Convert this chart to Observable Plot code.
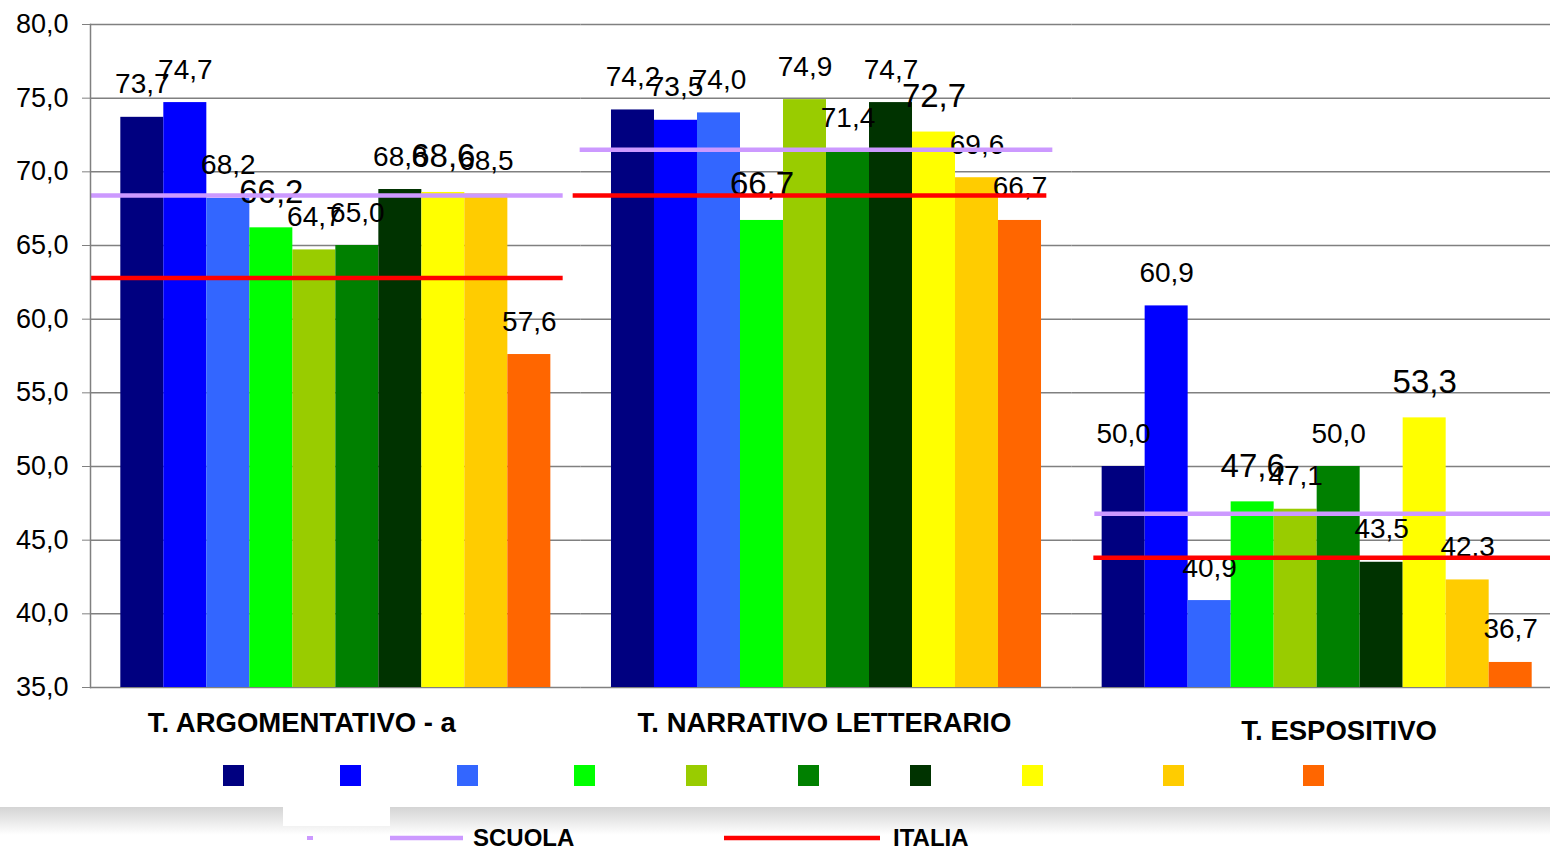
<!DOCTYPE html>
<html><head><meta charset="utf-8">
<script src="https://cdn.jsdelivr.net/npm/d3@7"></script>
<script src="https://cdn.jsdelivr.net/npm/@observablehq/plot@0.6"></script>
<style>
html,body{margin:0;padding:0;background:#fff;overflow:hidden;width:1550px;height:850px;}
#wrap{position:relative;width:1550px;height:850px;overflow:hidden;font-family:"Liberation Sans",Arial,sans-serif;background:#fff;}
#chart{position:absolute;left:0;top:0;width:1562px;}
#chart svg{max-width:none !important;}
#band{position:absolute;left:0;top:807px;width:1550px;height:43px;background:linear-gradient(#d4d4d4,#ffffff 65%);}
#legend{position:absolute;left:0;top:0;}
</style></head>
<body><div id="wrap"><div id="band"></div><div id="chart"></div><svg id="legend" width="1550" height="850"></svg></div>
<script>
// ---- data ----
const groups = ["T. ARGOMENTATIVO - a", "T. NARRATIVO LETTERARIO", "T. ESPOSITIVO"];
const series = ["S1", "S2", "S3", "S4", "S5", "S6", "S7", "S8", "S9", "S10"];
const seriesColors = ["#000080", "#0000FF", "#3366FF", "#00FF00", "#99CC00", "#008000", "#003300", "#FFFF00", "#FFCC00", "#FF6600"];
const argomentativo = [73.7, 74.7, 68.2, 66.2, 64.7, 65.0, 68.8, 68.6, 68.5, 57.6];
const narrativo = [74.2, 73.5, 74.0, 66.7, 74.9, 71.4, 74.7, 72.7, 69.6, 66.7];
const espositivo = [50.0, 60.9, 40.9, 47.6, 47.1, 50.0, 43.5, 53.3, 42.3, 36.7];
const scuola = [68.4, 71.5, 46.8];
const italia = [62.8, 68.4, 43.8];
const yTicks = [35, 40, 45, 50, 55, 60, 65, 70, 75, 80];
const lineNames = ["SCUOLA", "ITALIA"];

// ---- build ----
const valuesByGroup = [argomentativo, narrativo, espositivo];
const bigSeries = new Set([series[3], series[7]]);
const rows = groups.flatMap((g, gi) => valuesByGroup[gi].map((v, i) => ({group: g, series: series[i], value: v})));
const fmt = v => v.toFixed(1).replace(".", ",");

const scuolaInset = [
  {insetLeft: 0, insetRight: 18},
  {insetLeft: -1, insetRight: 19},
  {insetLeft: 23, insetRight: -20}
];
const italiaInset = [
  {insetLeft: 0, insetRight: 18},
  {insetLeft: -8, insetRight: 25},
  {insetLeft: 22, insetRight: -20}
];
const catOffset = [{dx: -34, dy: 44}, {dx: -2, dy: 44}, {dx: 22, dy: 52}];

const refMarks = groups.flatMap((g, gi) => [
  Plot.ruleY([scuola[gi]], {fx: () => g, y: d => d, stroke: "#CC99FF", strokeWidth: 4.5, ...scuolaInset[gi]}),
  Plot.ruleY([italia[gi]], {fx: () => g, y: d => d, stroke: "#FF0000", strokeWidth: 4.5, ...italiaInset[gi]})
]);
const catMarks = groups.map((g, gi) =>
  Plot.text([g], {fx: d => d, text: d => d, frameAnchor: "bottom", lineAnchor: "bottom",
    dx: catOffset[gi].dx, dy: catOffset[gi].dy, fontSize: 27.5, fontWeight: "bold", fill: "#000"})
);

const chart = Plot.plot({
  width: 1562,
  height: 760,
  marginLeft: 90,
  marginRight: 0,
  marginTop: 24,
  marginBottom: 73,
  style: {fontFamily: "'Liberation Sans', Arial, sans-serif", background: "transparent", overflow: "visible", maxWidth: "none"},
  fx: {domain: groups, padding: 0, round: false, axis: null},
  x: {domain: series, paddingInner: 0, paddingOuter: 0.705, round: false, axis: null},
  y: {domain: [yTicks[0], yTicks[yTicks.length - 1]], label: null},
  color: {domain: series, range: seriesColors},
  marks: [
    Plot.ruleY(yTicks, {stroke: "#808080", strokeWidth: 1.5}),
    Plot.barY(rows, {fx: "group", x: "series", y1: yTicks[0], y2: "value", fill: "series"}),
    Plot.text(rows.filter(d => !bigSeries.has(d.series)), {fx: "group", x: "series", y: "value", text: d => fmt(d.value),
      lineAnchor: "bottom", dy: -24, fontSize: 28, fill: "#000"}),
    Plot.text(rows.filter(d => bigSeries.has(d.series)), {fx: "group", x: "series", y: "value", text: d => fmt(d.value),
      lineAnchor: "bottom", dy: -25, fontSize: 33, fill: "#000"}),
    ...refMarks,
    Plot.axisY({ticks: yTicks, tickFormat: fmt, tickSize: 8, tickPadding: 14, fontSize: 27, stroke: "#808080", fill: "#000", label: null}),
    Plot.frame({anchor: "left", facetAnchor: "left", stroke: "#808080", strokeWidth: 1.5}),
    ...catMarks
  ]
});
chart.style.maxWidth = "none";
document.getElementById("chart").appendChild(chart);

// ---- legend ----
const legendX = [223, 340, 457, 574, 686, 798, 910, 1022, 1163, 1303];
const lg = d3.select("#legend");
lg.selectAll("rect.sw").data(series).join("rect").attr("class", "sw")
  .attr("x", (d, i) => legendX[i]).attr("y", 765).attr("width", 21).attr("height", 21)
  .attr("fill", d => seriesColors[series.indexOf(d)]);
// white block over the shaded band
lg.append("rect").attr("x", 283).attr("y", 807).attr("width", 107).attr("height", 19).attr("fill", "#fff");
lg.append("rect").attr("x", 307).attr("y", 836).attr("width", 6).attr("height", 4).attr("fill", "#CC99FF");
const lineLegend = [
  {name: lineNames[0], color: "#CC99FF", x1: 390, x2: 463, tx: 473},
  {name: lineNames[1], color: "#FF0000", x1: 724, x2: 880, tx: 893}
];
lineLegend.forEach(l => {
  lg.append("line").attr("x1", l.x1).attr("x2", l.x2).attr("y1", 838).attr("y2", 838)
    .attr("stroke", l.color).attr("stroke-width", 4.5);
  lg.append("text").attr("x", l.tx).attr("y", 846).text(l.name)
    .attr("font-family", "'Liberation Sans', Arial, sans-serif").attr("font-size", 24).attr("font-weight", "bold").attr("fill", "#000");
});
</script>
</body></html>
